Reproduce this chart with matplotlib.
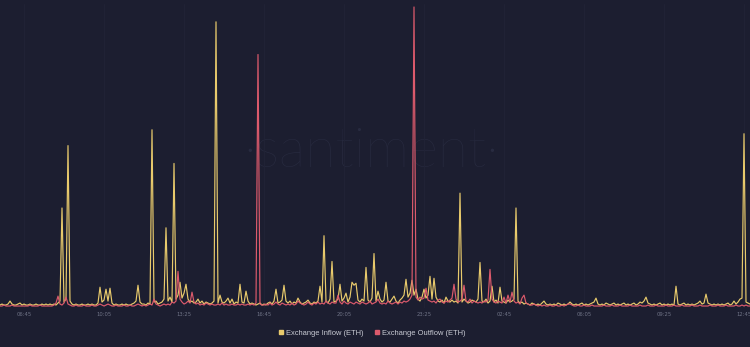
import matplotlib
matplotlib.use("Agg")
import matplotlib.pyplot as plt
import matplotlib.dates as mdates
from matplotlib.lines import Line2D
import pandas as pd

# 5-minute samples starting 05:45
start_time = "2024-01-10 05:45"
step_minutes = 5

# Exchange Inflow (ETH), one row per hour
inflow = [
    2, 3, 2, 2, 3, 6, 3, 2, 2, 3, 4, 2,
    3, 2, 2, 3, 2, 2, 3, 2, 2, 3, 2, 3,
    2, 3, 2, 3, 2, 4, 6, 100, 5, 8, 163, 6,
    3, 2, 3, 2, 2, 3, 2, 2, 3, 2, 3, 2,
    2, 4, 20, 5, 7, 18, 6, 19, 4, 2, 3, 2,
    2, 3, 2, 3, 2, 2, 3, 4, 6, 22, 5, 3,
    3, 2, 4, 3, 179, 5, 6, 3, 4, 5, 8, 80,
    6, 10, 5, 145, 8, 12, 25, 9, 14, 23, 8, 5,
    6, 4, 5, 8, 4, 6, 3, 5, 4, 3, 4, 6,
    288, 4, 12, 5, 4, 6, 9, 4, 8, 3, 5, 4,
    23, 5, 4, 16, 6, 3, 4, 3, 2, 3, 4, 2,
    3, 2, 4, 5, 3, 6, 18, 4, 5, 7, 22, 6,
    4, 6, 3, 5, 4, 9, 5, 3, 4, 5, 7, 4,
    3, 5, 4, 6, 21, 5, 72, 6, 4, 8, 46, 5,
    6, 8, 23, 6, 9, 14, 5, 10, 25, 22, 24, 7,
    5, 8, 6, 40, 7, 5, 9, 54, 6, 16, 8, 5,
    7, 25, 6, 5, 8, 11, 6, 4, 7, 9, 12, 28,
    10, 14, 27, 12, 18, 8, 6, 10, 18, 9, 12, 31,
    8, 29, 10, 6, 5, 7, 4, 10, 6, 5, 7, 5,
    6, 4, 115, 5, 8, 6, 4, 5, 7, 6, 5, 8,
    45, 6, 5, 8, 4, 6, 21, 5, 7, 4, 20, 6,
    5, 4, 7, 5, 6, 8, 100, 6, 4, 5, 3, 4,
    3, 2, 4, 3, 2, 3, 2, 4, 6, 3, 2, 3,
    2, 3, 2, 4, 3, 2, 3, 2, 3, 5, 3, 2,
    3, 2, 3, 4, 2, 3, 2, 3, 4, 5, 9, 3,
    2, 3, 2, 4, 3, 2, 3, 4, 2, 3, 2, 3,
    4, 2, 3, 2, 3, 4, 2, 3, 5, 4, 6, 10,
    4, 3, 2, 3, 2, 3, 4, 2, 3, 2, 3, 2,
    3, 2, 21, 3, 2, 3, 4, 2, 3, 2, 3, 2,
    3, 4, 6, 3, 4, 13, 4, 3, 2, 3, 2, 3,
    2, 3, 2, 3, 4, 2, 3, 6, 3, 5, 8, 9,
    175, 5, 4, 3,
]

# Exchange Outflow (ETH)
outflow = [
    1, 1, 2, 1, 1, 1, 2, 1, 1, 1, 1, 1,
    1, 1, 1, 2, 1, 1, 1, 1, 2, 1, 1, 1,
    1, 1, 1, 2, 4, 11, 3, 2, 4, 10, 3, 2,
    1, 1, 2, 1, 1, 1, 2, 1, 1, 1, 2, 1,
    1, 2, 3, 2, 1, 2, 3, 2, 1, 1, 2, 1,
    1, 1, 2, 1, 1, 2, 1, 1, 2, 3, 2, 1,
    2, 1, 2, 3, 2, 8, 3, 2, 1, 2, 3, 2,
    3, 2, 5, 4, 6, 36, 8, 5, 3, 4, 6, 4,
    15, 5, 3, 4, 2, 3, 2, 4, 3, 2, 3, 2,
    2, 3, 2, 4, 2, 3, 2, 2, 3, 2, 2, 3,
    2, 3, 2, 2, 3, 2, 3, 2, 4, 255, 3, 2,
    2, 3, 2, 4, 2, 3, 5, 3, 2, 4, 3, 2,
    3, 2, 4, 2, 3, 6, 4, 3, 2, 3, 5, 3,
    2, 4, 3, 5, 3, 4, 3, 6, 4, 3, 5, 4,
    4, 12, 5, 3, 6, 4, 3, 5, 4, 3, 5, 4,
    3, 5, 4, 3, 4, 6, 3, 4, 5, 8, 4, 3,
    4, 3, 6, 4, 3, 4, 5, 3, 5, 4, 6, 5,
    6, 8, 12, 303, 10, 7, 10, 8, 9, 19, 7, 6,
    5, 6, 4, 7, 8, 5, 4, 6, 5, 7, 9, 23,
    8, 5, 6, 8, 22, 6, 5, 8, 4, 6, 5, 4,
    5, 4, 6, 5, 7, 38, 8, 5, 4, 6, 5, 4,
    10, 4, 12, 5, 15, 6, 4, 5, 3, 9, 12, 4,
    3, 2, 2, 3, 2, 1, 2, 1, 2, 1, 1, 2,
    1, 1, 2, 1, 1, 2, 1, 2, 3, 3, 2, 1,
    1, 2, 1, 1, 2, 1, 1, 1, 2, 1, 1, 1,
    1, 1, 2, 1, 1, 1, 2, 1, 1, 1, 2, 1,
    1, 1, 1, 2, 1, 1, 1, 1, 2, 1, 1, 1,
    2, 1, 1, 1, 2, 1, 1, 1, 1, 2, 1, 1,
    1, 2, 1, 1, 1, 2, 1, 1, 1, 1, 2, 1,
    1, 1, 2, 1, 1, 1, 1, 2, 1, 1, 1, 2,
    1, 1, 1, 2, 1, 1, 1, 1, 2, 1, 1, 2,
    1, 2, 1, 1,
]

series_labels = ["Exchange Inflow (ETH)", "Exchange Outflow (ETH)"]
first_tick = "2024-01-10 06:45"
tick_every_minutes = 200

BG = "#1c1e30"
YELLOW = "#e8ca6c"
RED = "#dc5a6c"

times = pd.date_range(start_time, periods=len(inflow), freq=f"{step_minutes}min")
ticks = pd.date_range(first_tick, times[-1], freq=f"{tick_every_minutes}min")

fig = plt.figure(figsize=(7.5, 3.47), dpi=100, facecolor=BG)
ax = fig.add_axes([0, 1 - 308 / 347, 1, 304 / 347])
ax.set_facecolor(BG)

ax.plot(times, inflow, color=YELLOW, lw=0.85, zorder=3)
ax.plot(times, outflow, color=RED, lw=0.85, zorder=4)

ax.set_xlim(times[0], times[-1])
ax.set_ylim(-1, 306)
ax.set_xticks(ticks)
ax.xaxis.set_major_formatter(mdates.DateFormatter("%H:%M"))
ax.tick_params(axis="x", length=0, pad=3, labelsize=3.8, labelcolor="#6f7386")
ax.set_yticks([])
ax.grid(axis="x", color="#212336", lw=0.6, zorder=0)
for s in ax.spines.values():
    s.set_visible(False)

# watermark
ax.text(0.495, 0.515, "·santiment·", transform=ax.transAxes, ha="center", va="center",
        fontsize=40, color="#282b40", family="Lato", fontweight="light", zorder=1)

handles = [Line2D([], [], ls="", marker="s", markersize=3.5, color=c) for c in (YELLOW, RED)]
fig.legend(handles, series_labels, loc="center", bbox_to_anchor=(0.496, 1 - 333 / 347),
           ncol=2, frameon=False, labelcolor="#c9cbd4",
           handletextpad=0.25, columnspacing=1.4, handlelength=0.8,
           prop={"family": "Liberation Sans", "size": 5.4})

fig.savefig("out.png", dpi=100, facecolor=BG)
